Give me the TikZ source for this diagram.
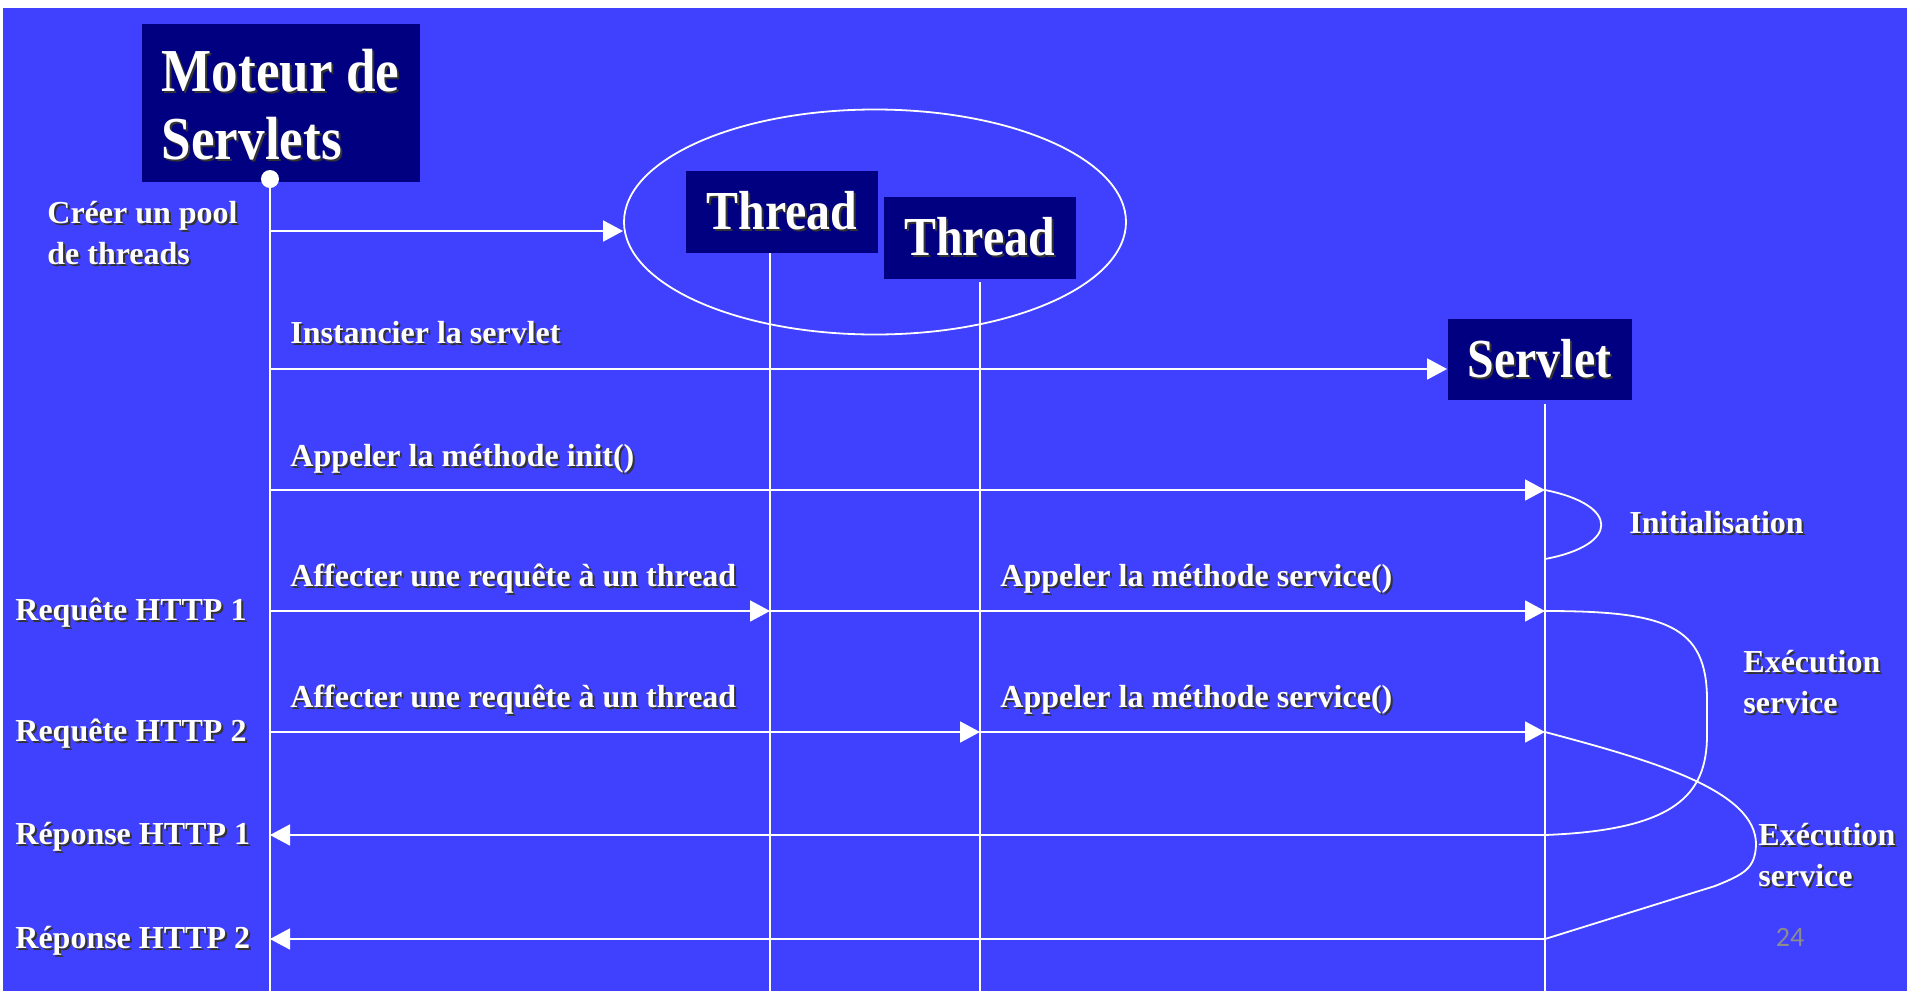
\documentclass[tikz,border=0pt]{standalone}
\usepackage{fontspec}
\setmainfont{Liberation Serif}
\newfontfamily\hdrfont{Liberation Serif}[FakeStretch=0.87]
\newfontfamily\numfont{Carlito}
\usetikzlibrary{arrows.meta,shapes.geometric}

\definecolor{slidebg}{RGB}{64,64,255}
\definecolor{boxnavy}{RGB}{0,0,128}
\definecolor{pagegray}{RGB}{140,140,140}

% white text with a small dark drop shadow
\newcommand\shd[1]{\leavevmode\rlap{\kern1pt\raisebox{-1pt}{\color{black!80}#1}}#1}

\begin{document}
\begin{tikzpicture}[x=0.5pt,y=-0.5pt,
  hdr/.style={fill=boxnavy,text=white,inner sep=0pt,
    font=\hdrfont\bfseries\fontsize{27.5pt}{32pt}\selectfont},
  lbl/.style={text=white,inner sep=0pt,anchor=base west,
    font=\bfseries\fontsize{16pt}{20.5pt}\selectfont},
  life/.style={draw=white,line width=0.9pt},
  msg/.style={draw=white,line width=0.9pt,
    -{Triangle[length=10pt,width=10.5pt]},fill=white}]

% page
\useasboundingbox (0,0) rectangle (1907,991);
\fill[white] (0,0) rectangle (1907,991);
\fill[slidebg] (3,8) rectangle (1907,991);

% participants
\node[hdr,minimum width=139pt,minimum height=79pt] (engine) at (280.5,103)
  {\raisebox{-4.5pt}[\height][\depth]{\fontsize{30.5pt}{34pt}\selectfont
   \begin{tabular}{@{}l@{}}\shd{Moteur de}\\\shd{Servlets}\end{tabular}}};
\node[circle,fill=white,inner sep=0pt,minimum size=9pt] (dot) at (270,179) {};

\node[ellipse,draw=white,line width=0.9pt,minimum width=251pt,minimum height=112.5pt] (pool) at (875,222) {};
\node[hdr,minimum width=96pt,minimum height=41pt] (thread1) at (782,212) {\shd{Thread}};
\node[hdr,minimum width=96pt,minimum height=41pt] (thread2) at (979.5,238) {\shd{Thread}};
\node[hdr,minimum width=92pt,minimum height=40.5pt] (servlet) at (1539.5,359.5) {\shd{Servlet}};

% lifeline ends
\coordinate (e-bot) at (270,991);
\coordinate (t1-top) at (770,253);
\coordinate (t1-bot) at (770,991);
\coordinate (t2-top) at (980,282);
\coordinate (t2-bot) at (980,991);
\coordinate (s-top) at (1545,404);
\coordinate (s-bot) at (1545,991);

\draw[life] (dot) -- (e-bot);
\draw[life] (t1-top) -- (t1-bot);
\draw[life] (t2-top) -- (t2-bot);
\draw[life] (s-top) -- (s-bot);

% message rows
\coordinate (e-pool) at (270,231);
\coordinate (e-inst) at (270,369);
\coordinate (e-init) at (270,490);
\coordinate (s-init) at (1545,490);
\coordinate (s-init-end) at (1545,559);
\coordinate (e-req1) at (270,611);
\coordinate (t1-req1) at (770,611);
\coordinate (s-req1) at (1545,611);
\coordinate (e-req2) at (270,732);
\coordinate (t2-req2) at (980,732);
\coordinate (s-req2) at (1545,732);
\coordinate (s-rep1) at (1545,835);
\coordinate (e-rep1) at (270,835);
\coordinate (s-rep2) at (1545,939);
\coordinate (e-rep2) at (270,939);

\draw[msg] (e-pool) -- (e-pool -| pool.west);
\draw[msg] (e-inst) -- (e-inst -| servlet.west);
\draw[msg] (e-init) -- (s-init);
\draw[msg] (e-req1) -- (t1-req1);
\draw[msg] (t1-req1) -- (s-req1);
\draw[msg] (e-req2) -- (t2-req2);
\draw[msg] (t2-req2) -- (s-req2);
\draw[msg] (s-rep1) -- (e-rep1);
\draw[msg] (s-rep2) -- (e-rep2);

% activations on the servlet
\draw[life] (s-init) .. controls +(75,15) and +(75,-14) .. (s-init-end);
\draw[life] (s-req1) .. controls +(120,0) and +(0,-75) .. (1707,700)
  -- (1707,735) .. controls +(0,60) and +(130,-5) .. (s-rep1);
\draw[life] (s-req2) .. controls (1650,760) and (1757,790) .. (1756,845)
  .. controls (1755,868) and (1745,874) .. (1715,886) -- (s-rep2);

% labels (multi-line ones are placed by the baseline of their last line)
\node[lbl,align=left] (lpool) at (47,264) {\shd{Créer un pool}\\\shd{de threads}};
\node[lbl] (linst) at (290,343) {\shd{Instancier la servlet}};
\node[lbl] (linit) at (290,466) {\shd{Appeler la méthode init()}};
\node[lbl] (laff1) at (290,586) {\shd{Affecter une requête à un thread}};
\node[lbl] (lsrv1) at (1000,586) {\shd{Appeler la méthode service()}};
\node[lbl] (laff2) at (290,707) {\shd{Affecter une requête à un thread}};
\node[lbl] (lsrv2) at (1000,707) {\shd{Appeler la méthode service()}};
\node[lbl] (lreq1) at (15,620) {\shd{Requête HTTP 1}};
\node[lbl] (lreq2) at (15,741) {\shd{Requête HTTP 2}};
\node[lbl] (lrep1) at (15,844) {\shd{Réponse HTTP 1}};
\node[lbl] (lrep2) at (15,948) {\shd{Réponse HTTP 2}};
\node[lbl] (linitial) at (1629,533) {\shd{Initialisation}};
\node[lbl,align=left] (lexec1) at (1743,713) {\shd{Exécution}\\\shd{service}};
\node[lbl,align=left] (lexec2) at (1758,886) {\shd{Exécution}\\\shd{service}};

% slide number
\node[text=pagegray,inner sep=0pt,font=\numfont\fontsize{14pt}{16pt}\selectfont] (pnum) at (1790,937) {24};
\end{tikzpicture}
\end{document}
